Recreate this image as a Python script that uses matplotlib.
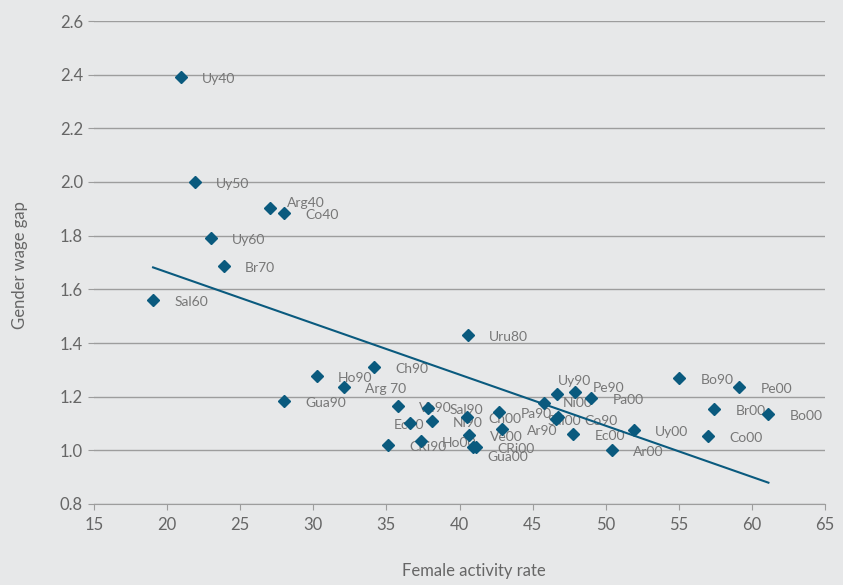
import numpy as np
import matplotlib
matplotlib.use("Agg")
import matplotlib.pyplot as plt

plt.rcParams['font.family'] = ['Lato', 'DejaVu Sans']

labels = ["Uy40", "Uy50", "Arg40", "Co40", "Uy60", "Br70", "Sal60", "Uru80",
          "Ch90", "Ho90", "Arg 70", "Gua90", "Ve90", "Sal90", "Ec90", "Ni90",
          "CRi90", "Ho00", "Ch00", "Ve00", "Gua00", "CRi00", "Pa90", "Ar90",
          "Ni00", "Uy90", "Pe90", "Pa00", "Sal00", "Co90", "Ec00", "Ar00",
          "Uy00", "Bo90", "Pe00", "Br00", "Bo00", "Co00"]
female_activity = [20.95, 21.91, 27.05, 28.00, 23.01, 23.90, 19.04, 40.60,
                   34.17, 30.26, 32.11, 28.00, 35.81, 37.86, 36.63, 38.13,
                   35.12, 37.38, 40.53, 40.67, 40.94, 41.15, 42.72, 42.93,
                   45.80, 46.69, 47.92, 49.02, 46.62, 46.76, 47.79, 50.46,
                   51.96, 55.04, 59.15, 57.44, 61.13, 57.03]
wage_gap = [2.391, 2.000, 1.903, 1.884, 1.791, 1.687, 1.560, 1.430,
            1.310, 1.277, 1.236, 1.184, 1.165, 1.158, 1.102, 1.109,
            1.020, 1.035, 1.124, 1.057, 1.012, 1.012, 1.143, 1.079,
            1.176, 1.210, 1.217, 1.195, 1.117, 1.124, 1.061, 1.001,
            1.076, 1.269, 1.236, 1.154, 1.135, 1.053]

x_ticks = [15, 20, 25, 30, 35, 40, 45, 50, 55, 60, 65]
y_ticks = [0.8, 1.0, 1.2, 1.4, 1.6, 1.8, 2.0, 2.2, 2.4, 2.6]

# label nudges in pixels (dx right, dy up), default to the right of the marker
default_off = (21, -2)
label_off = {"Arg40": (17, 5), "Uy90": (1, 13), "Pe90": (17, 4), "Ni00": (18, 0),
             "Sal00": (-9, -2), "Co90": (26, -4), "Ar90": (25, -2),
             "Gua00": (14, -10), "Ec90": (-16, -2)}

bg = "#e7e8e9"
blue = "#0a5a7e"
grey_txt = "#666666"
label_txt = "#777777"
grid_c = "#9d9d9d"

fig = plt.figure(figsize=(8.43, 5.85), dpi=100, facecolor=bg)
ax = fig.add_axes([94 / 843, 1 - 504 / 585, 731 / 843, 483 / 585], facecolor=bg)

x = np.array(female_activity)
y = np.array(wage_gap)

ax.plot(x, y, linestyle='none', marker='D', markersize=5.8, color=blue, zorder=4)

# linear trend line
k, b = np.polyfit(x, y, 1)
xs = np.array([x.min(), x.max()])
ax.plot(xs, k * xs + b, color=blue, lw=1.5, zorder=3)

for name, xi, yi in zip(labels, x, y):
    dx, dy = label_off.get(name, default_off)
    ax.annotate(name, (xi, yi), xytext=(dx * 0.72, dy * 0.72), textcoords='offset points',
                ha='left', va='center', fontsize=10, color=label_txt, zorder=2)

ax.set_xlim(15, 65)
ax.set_ylim(0.8, 2.6)
ax.set_xticks(x_ticks)
ax.set_yticks(y_ticks)
ax.set_yticklabels([f"{v:.1f}" for v in y_ticks])
ax.grid(axis='y', color=grid_c, lw=1.0)
ax.set_axisbelow(True)

for s in ['top', 'right', 'left']:
    ax.spines[s].set_visible(False)
ax.spines['bottom'].set_color(grid_c)
ax.tick_params(axis='x', colors=grid_c, labelcolor=grey_txt, labelsize=12, length=4, pad=5)
ax.tick_params(axis='y', colors=grid_c, labelcolor=grey_txt, labelsize=12, length=4, pad=4)

fig.text(474 / 843, 1 - 571 / 585, "Female activity rate", ha='center', va='center',
         fontsize=12, color=grey_txt)
fig.text(20 / 843, 1 - 265 / 585, "Gender wage gap", ha='center', va='center',
         rotation=90, fontsize=12, color=grey_txt)

fig.savefig("out.png", dpi=100, facecolor=bg)
